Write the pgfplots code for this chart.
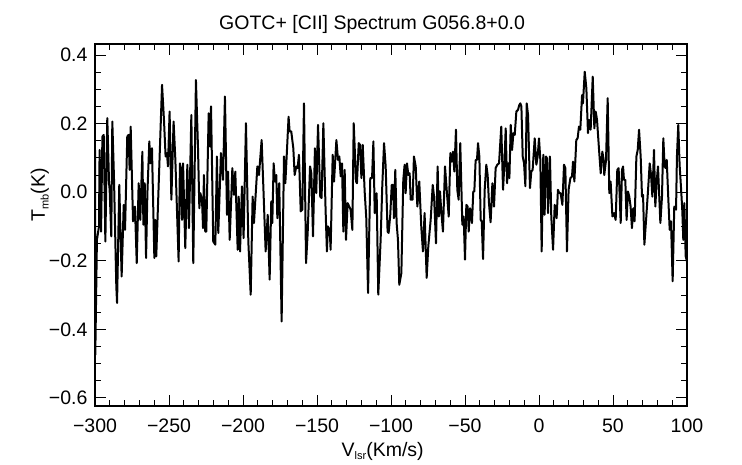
\documentclass[border=0pt]{standalone}
\usepackage{fontspec}
\setmainfont{Liberation Sans}
\usepackage{pgfplots}
\pgfplotsset{compat=1.18}
\newcommand\sub[1]{\raisebox{-0.35ex}{\fontsize{11}{13}\selectfont #1}}
\begin{document}
\begin{tikzpicture}
\path[use as bounding box] (-95pt,-58pt) rectangle (647pt,406pt);
\begin{axis}[
  at={(0,0)}, anchor=south west,
  scale only axis, width=592pt, height=362pt,
  xmin=-300, xmax=100, ymin=-0.6235, ymax=0.432,
  xtick={-300,-250,-200,-150,-100,-50,0,50,100},
  xticklabels={−300,−250,−200,−150,−100,−50,0,50,100},
  ytick={-0.6,-0.4,-0.2,0,0.2,0.4},
  yticklabels={−0.6,−0.4,−0.2,0.0,0.2,0.4},
  minor x tick num=4, minor y tick num=3,
  major tick length=11pt, minor tick length=6pt,
  tick align=inside,
  every tick/.style={black, line width=0.9pt},
  axis line style={line width=1.1pt},
  tick label style={font=\fontsize{19.5}{22}\selectfont},
  xticklabel style={yshift=-9pt},
  yticklabel style={xshift=-4pt},
  title={GOTC+ [CII] Spectrum G056.8+0.0},
  title style={font=\fontsize{19.5}{22}\selectfont, at={(axis description cs:0.468,1)}, anchor=south, yshift=1pt},
  xlabel={V\sub{lsr}(Km/s)},
  xlabel style={font=\fontsize{19.5}{22}\selectfont, at={(axis description cs:0.486,0)}, anchor=base, yshift=-50pt},
  ylabel={T\sub{mb}(K)},
  ylabel style={font=\fontsize{19.5}{22}\selectfont, at={(axis description cs:-0.0845,0.583)}, anchor=base},
]
\addplot[black, line width=2pt, line join=round] coordinates {
(-300.0,0.123) (-299.8,-0.474) (-298.7,-0.139) (-297.3,-0.100) (-296.9,0.123)
(-295.9,-0.115) (-295.0,0.162) (-294.1,0.167) (-293.0,-0.144) (-291.7,0.216)
(-290.5,0.026) (-290.1,0.007) (-289.0,-0.129) (-288.3,0.206) (-287.2,0.046)
(-285.6,-0.275) (-285.1,-0.323) (-283.6,0.021) (-282.0,-0.246) (-280.6,-0.037)
(-279.7,-0.110) (-278.2,0.162) (-277.3,0.167) (-276.6,0.065) (-275.9,0.191)
(-274.3,-0.085) (-273.0,-0.042) (-271.8,-0.207) (-270.5,0.026) (-269.4,-0.081)
(-268.0,0.118) (-267.3,-0.095) (-266.4,0.026) (-265.5,-0.192) (-264.6,-0.003)
(-263.3,0.148) (-262.6,0.084) (-261.5,0.128) (-259.9,-0.192) (-259.2,-0.081)
(-258.6,-0.187) (-254.7,0.313) (-253.4,0.211) (-252.3,0.104) (-251.4,0.114)
(-250.7,0.075) (-249.6,0.235) (-248.4,-0.022) (-246.9,0.206) (-245.7,0.094)
(-243.5,-0.202) (-242.6,0.084)
(-241.9,0.065) (-241.2,-0.081) (-240.5,0.084) (-239.0,-0.163) (-237.6,0.080)
(-236.5,-0.105) (-234.9,0.225) (-233.6,-0.207) (-231.8,0.327) (-230.4,0.128)
(-229.5,-0.047) (-228.8,-0.003) (-227.7,-0.022) (-227.0,-0.105) (-226.4,0.050)
(-225.5,-0.115) (-224.8,-0.115) (-223.2,0.230) (-222.3,0.133) (-221.6,0.250)
(-220.1,-0.144) (-218.7,-0.153) (-217.6,0.104) (-216.7,-0.119) (-214.9,0.114)
(-213.5,0.036) (-212.2,0.279) (-210.8,-0.066) (-210.1,0.060) (-209.0,-0.139)
(-207.2,0.070) (-206.1,-0.008) (-205.2,0.060) (-203.6,-0.168) (-202.9,-0.013)
(-202.0,-0.173) (-200.7,0.017) (-199.6,-0.134) (-198.0,0.201) (-196.4,-0.144)
(-194.8,-0.299) (-193.5,-0.013) (-192.6,-0.090) (-190.3,0.075) (-189.2,0.050)
(-187.4,0.152) (-186.3,0.021)
(-184.7,-0.173) (-183.3,-0.066) (-182.0,-0.255) (-180.9,-0.027) (-180.2,-0.090)
(-179.3,0.084) (-178.4,0.031) (-177.5,0.050) (-176.8,-0.076) (-175.5,0.026)
(-173.9,-0.377) (-172.3,0.104) (-171.4,0.026) (-170.5,0.104) (-169.2,0.220)
(-168.5,0.177) (-167.4,0.177) (-166.0,0.128) (-165.1,0.050) (-164.0,0.075)
(-163.1,0.070) (-162.2,0.109) (-161.0,-0.056) (-159.9,-0.051) (-158.8,0.259)
(-157.4,-0.207) (-156.3,-0.119) (-154.7,0.075) (-153.8,0.055) (-152.7,-0.129)
(-151.4,0.128) (-150.5,-0.003) (-149.3,0.196) (-147.8,-0.013) (-146.9,-0.017)
(-145.7,0.201) (-144.2,-0.051) (-143.3,-0.173) (-142.6,-0.100) (-141.4,-0.110)
(-140.8,-0.168) (-139.4,0.109) (-138.5,0.031) (-136.9,0.152) (-135.8,0.094)
(-134.9,0.104) (-134.0,0.046) (-133.1,0.084) (-132.2,-0.115) (-131.3,0.065)
(-130.4,-0.139) (-129.3,-0.032) (-128.2,-0.042)
(-127.3,-0.051) (-126.1,-0.110) (-125.2,0.201) (-123.6,0.031) (-123.0,0.026)
(-121.8,0.143) (-120.9,0.138) (-120.0,0.041) (-119.1,0.138) (-117.8,0.002)
(-116.7,-0.076) (-115.5,-0.294) (-114.0,0.041) (-112.8,0.041) (-111.9,0.148)
(-111.0,-0.061) (-109.7,-0.003) (-108.6,-0.299) (-107.0,-0.139) (-105.9,0.017)
(-104.7,0.143) (-103.6,0.075) (-102.3,-0.115) (-101.6,-0.119) (-100.5,-0.066)
(-99.5,0.021) (-98.6,0.021) (-98.0,-0.076) (-97.1,0.065) (-96.2,-0.090)
(-95.3,-0.139) (-94.4,-0.270) (-93.0,-0.236) (-91.7,0.036) (-90.8,0.080)
(-90.1,-0.003) (-89.2,0.084) (-88.3,0.050) (-87.4,0.055) (-86.7,-0.022)
(-85.4,-0.022) (-84.5,0.104) (-83.3,0.075) (-82.2,-0.042) (-80.9,0.031)
(-79.5,-0.105) (-78.4,-0.173) (-77.3,-0.061) (-75.9,-0.250) (-74.8,-0.158)
(-73.2,-0.081) (-71.8,0.021)
(-70.9,-0.013) (-69.6,-0.149) (-68.5,0.075) (-67.6,-0.071) (-66.9,0.002)
(-66.0,-0.056) (-64.9,-0.115) (-63.5,0.075) (-62.2,-0.003) (-61.0,-0.071)
(-59.9,0.114) (-59.0,0.089) (-58.1,0.118) (-57.2,0.060) (-56.1,0.182)
(-55.2,0.007) (-54.3,-0.022) (-53.2,0.143) (-51.8,-0.095) (-50.9,-0.071)
(-50.0,-0.197) (-49.1,-0.037) (-48.2,-0.042) (-47.5,-0.115) (-46.6,-0.047)
(-45.9,-0.061) (-45.3,-0.090) (-44.4,0.002) (-43.7,0.002) (-42.8,0.094)
(-41.9,0.094) (-41.2,0.143) (-40.3,0.104) (-39.4,-0.081) (-38.7,-0.085)
(-37.8,-0.195) (-36.7,0.007) (-35.6,0.080) (-34.7,0.050) (-33.8,-0.032)
(-32.7,-0.088) (-31.5,0.026) (-30.4,-0.042) (-29.3,0.070) (-28.2,0.080)
(-27.0,0.084) (-25.5,0.191) (-24.3,0.007) (-23.4,0.080) (-22.5,0.186)
(-21.6,0.026) (-20.7,0.084) (-20.0,0.041) (-19.1,0.196) (-18.2,0.123)
(-17.3,0.172) (-16.4,0.167) (-15.3,0.235) (-14.2,0.240) (-13.3,0.254)
(-12.6,0.259) (-11.9,0.250) (-11.0,0.104) (-10.1,0.084) (-9.2,0.017)
(-8.3,0.259) (-7.4,0.225) (-6.1,0.012) (-5.2,0.060) (-4.3,0.065)
(-2.9,0.157) (-1.8,0.080) (-0.9,0.104) (0.0,0.157) (0.9,0.094)
(1.8,-0.173) (2.9,0.109) (3.8,-0.066) (4.7,0.104) (5.4,0.099)
(6.1,-0.061) (7.4,0.104) (8.3,-0.071) (9.5,-0.168) (10.6,-0.037)
(11.9,-0.076) (12.8,0.007) (13.7,-0.003) (14.6,-0.003) (15.8,-0.037)
(16.9,0.080) (17.8,0.070) (18.9,-0.173) (20.0,0.007) (21.2,0.041)
(22.3,0.046) (23.0,0.089) (23.9,0.031) (25.2,0.152) (26.1,0.157)
(27.0,0.191) (27.9,0.182) (29.1,0.283) (29.7,0.259) (30.9,0.351)
(32.0,0.303) (33.1,0.172) (33.8,0.211) (34.9,0.182) (36.3,0.337)
(37.4,0.186) (38.3,0.235) (39.2,0.211) (40.5,0.128) (41.7,0.055)
(42.8,0.118) (43.7,0.094)
(44.1,0.050) (45.3,0.094) (46.4,0.274) (47.5,-0.003) (48.4,0.031)
(49.6,-0.071) (50.7,-0.061) (51.8,-0.081) (52.9,0.065) (53.8,0.070)
(55.2,-0.090) (56.1,0.065) (56.8,0.075) (57.4,0.036) (58.3,0.036)
(59.2,-0.081) (60.1,0.002) (61.0,-0.013) (61.9,-0.042) (62.8,-0.105)
(63.7,-0.047) (64.6,-0.085) (65.8,0.104) (66.7,0.123) (67.6,0.182)
(68.7,0.104) (69.6,-0.013) (70.3,-0.008) (71.2,-0.153) (72.5,-0.071)
(73.7,0.007) (74.8,0.084) (75.7,0.050) (76.6,-0.013) (77.7,0.123)
(78.6,-0.042) (79.5,0.031) (80.4,0.075) (81.3,-0.017) (82.0,-0.090)
(83.1,-0.013) (84.0,0.157) (84.9,0.075) (85.6,0.070) (86.3,0.094)
(87.4,-0.022) (88.3,-0.110) (89.2,-0.085) (90.3,-0.260) (91.4,-0.042)
(92.6,-0.051) (93.2,0.104) (94.1,0.196) (95.0,0.080) (95.9,0.017)
(96.8,-0.051) (97.5,-0.139) (98.2,-0.032) (99.1,-0.187) (100.0,-0.202)
};
\end{axis}
\end{tikzpicture}
\end{document}
